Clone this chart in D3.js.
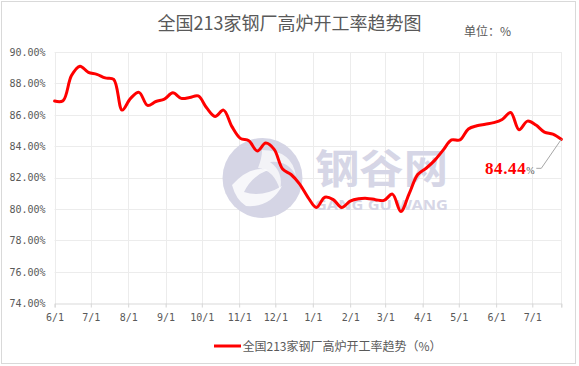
<!DOCTYPE html>
<html><head><meta charset="utf-8">
<script src="https://cdn.jsdelivr.net/npm/d3@7"></script>
<style>body{margin:0;background:#fff}svg{display:block}</style>
</head><body>
<svg id="c" width="579" height="366"></svg>
<script>
const title = "全国213家钢厂高炉开工率趋势图";
const unitLabel = "单位：%";
const seriesName = "全国213家钢厂高炉开工率趋势（%）";
const startDate = "2019-06-01";
const weekStepDays = 7;
const values = [86.88,86.9,88.5,89.1,88.7,88.58,88.35,88.26,86.3,87.05,87.43,86.6,86.85,87.0,87.4,87.05,87.1,87.2,86.45,85.9,86.3,85.25,84.5,84.35,83.7,84.2,83.8,82.55,82.2,81.6,80.75,80.1,80.75,80.6,80.1,80.5,80.65,80.68,80.6,80.55,80.95,79.85,81.0,82.2,82.6,83.1,83.75,84.4,84.4,85.1,85.3,85.4,85.5,85.7,86.15,85.05,85.6,85.35,84.9,84.77,84.44];
const yTicks = [74,76,78,80,82,84,86,88,90];
const xTickDates = ["2019-06-01","2019-07-01","2019-08-01","2019-09-01","2019-10-01","2019-11-01","2019-12-01","2020-01-01","2020-02-01","2020-03-01","2020-04-01","2020-05-01","2020-06-01","2020-07-01"];
const lastLabel = "84.44";

const svg = d3.select("#c");
const parse = d3.utcParse("%Y-%m-%d");
const t0 = parse(startDate);
const data = values.map((v,i)=>({d:d3.utcDay.offset(t0,i*weekStepDays),v}));

const x = d3.scaleUtc().domain([t0, data[data.length-1].d]).range([54.6,561.3]);
const y = d3.scaleLinear().domain([74,90]).range([303.3,52]);

// border
svg.append("rect").attr("x",1.5).attr("y",1.5).attr("width",574).attr("height",362)
  .attr("fill","#fff").attr("stroke","#d9d9d9").attr("stroke-width",1);

// grid
const grid = svg.append("g");
grid.selectAll("line.h").data(yTicks.slice(1)).join("line")
  .attr("x1",x.range()[0]).attr("x2",x.range()[1])
  .attr("y1",d=>Math.round(y(d))+0.5).attr("y2",d=>Math.round(y(d))+0.5)
  .attr("stroke","#ececec");
const xt = xTickDates.map(parse);
grid.selectAll("line.v").data(xt.concat([x.domain()[1]])).join("line")
  .attr("x1",d=>Math.round(x(d))+0.5).attr("x2",d=>Math.round(x(d))+0.5)
  .attr("y1",y(90)).attr("y2",y(74)+4)
  .attr("stroke","#ececec");

// watermark
const wm = svg.append("g");
wm.append("circle").attr("cx",262.5).attr("cy",178).attr("r",40).attr("fill","#d5d5e5");
wm.append("path").attr("d","M232,185 Q250,165 268,170 Q252,176 244,192 Q262,198 282,186 Q270,208 246,206 Q236,200 232,185Z").attr("fill","#fff").attr("opacity",0.8);
wm.append("path").attr("d","M262,150 Q292,150 296,176 Q288,160 270,162 Q284,172 280,190 Q274,170 258,168 Q262,158 262,150Z").attr("fill","#fff").attr("opacity",0.7);
wm.append("text").attr("x",315).attr("y",183).attr("font-family","Noto Sans CJK SC").attr("font-weight",700)
  .attr("font-size",40).attr("fill","#d6d6e6").attr("textLength",133).attr("lengthAdjust","spacingAndGlyphs").text("钢谷网");
wm.append("text").attr("x",315).attr("y",210).attr("font-family","Noto Sans, sans-serif").attr("font-weight",700)
  .attr("font-size",15).attr("fill","#d6d6e6").attr("textLength",133).attr("lengthAdjust","spacingAndGlyphs").text("GANG GU WANG");

// axes
const labelFont = "DejaVu Sans Mono, monospace";
const yAxis = svg.append("g").attr("transform",`translate(${x.range()[0]},0)`)
  .call(d3.axisLeft(y).tickValues(yTicks).tickSize(0).tickPadding(9).tickFormat(d=>d.toFixed(2)+"%"));
yAxis.select(".domain").remove();
yAxis.selectAll("text").attr("font-family",labelFont).attr("font-size",10).attr("fill","#595959");

const xAxis = svg.append("g").attr("transform",`translate(0,${Math.round(y(74))+0.5})`)
  .call(d3.axisBottom(x).tickValues(xt.concat([x.domain()[1]])).tickSize(4).tickPadding(6).tickFormat(d=> xt.some(t=>+t===+d) ? d3.utcFormat("%-m/%-d")(d) : ""));
xAxis.select(".domain").attr("stroke","#d9d9d9");
xAxis.selectAll(".tick line").attr("stroke","#d9d9d9");
xAxis.selectAll("text").attr("font-family",labelFont).attr("font-size",10).attr("fill","#595959");

// line
const line = d3.line().x(d=>x(d.d)).y(d=>y(d.v)).curve(d3.curveCatmullRom.alpha(0.5));
svg.append("path").datum(data).attr("d",line).attr("fill","none")
  .attr("stroke","#ff0000").attr("stroke-width",3).attr("stroke-linejoin","round").attr("stroke-linecap","round");

// annotation
const last = data[data.length-1];
const lx = x(last.d), ly = y(last.v);
svg.append("path").attr("d",`M${lx},${ly} L${lx-20},${ly+29} L${lx-25},${ly+29}`)
  .attr("fill","none").attr("stroke","#a6a6a6").attr("stroke-width",1);
const ann = svg.append("text").attr("x",485).attr("y",ly+35).attr("font-family","Liberation Serif, serif");
ann.append("tspan").attr("font-size",17).attr("font-weight",700).attr("fill","#ff0000").attr("letter-spacing",0.6).text(lastLabel);
ann.append("tspan").attr("font-size",10).attr("fill","#595959").text("%");

// title
svg.append("text").attr("x",289.5).attr("y",30).attr("text-anchor","middle")
  .attr("font-family","Noto Sans CJK SC").attr("font-size",18).attr("fill","#595959").text(title);
svg.append("text").attr("x",464).attr("y",35.5)
  .attr("font-family","Noto Sans CJK SC").attr("font-size",12).attr("fill","#595959").text(unitLabel);

// legend
svg.append("line").attr("x1",214).attr("x2",241).attr("y1",346).attr("y2",346).attr("stroke","#ff0000").attr("stroke-width",3);
svg.append("text").attr("x",242.5).attr("y",350.5).attr("font-family","Noto Sans CJK SC").attr("font-size",12)
  .attr("fill","#595959").text(seriesName);
</script>
</body></html>
